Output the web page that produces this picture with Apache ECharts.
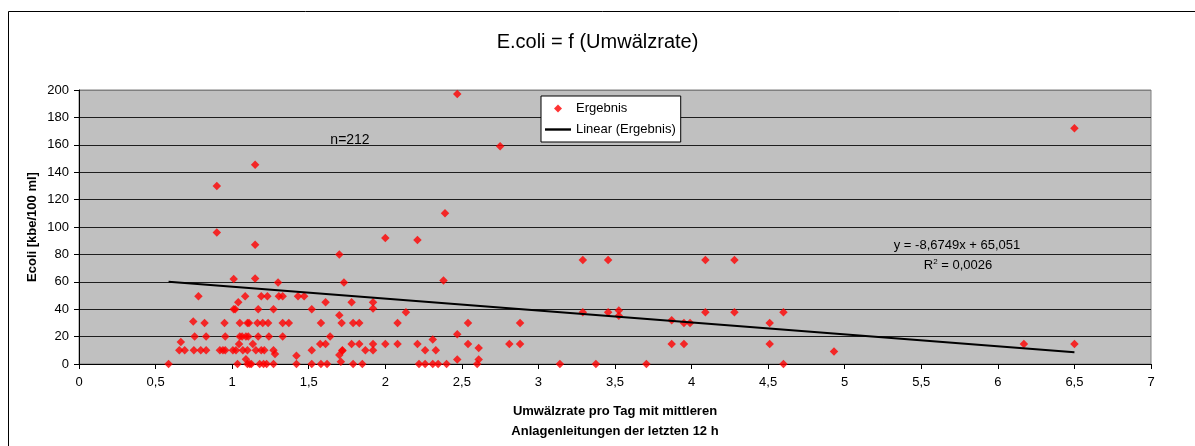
<!DOCTYPE html>
<html>
<head>
<meta charset="utf-8">
<script src="https://cdn.jsdelivr.net/npm/echarts@6/dist/echarts.min.js"></script>
<style>
html,body{margin:0;padding:0;background:#fff;}
#chart{width:1195px;height:446px;}
</style>
</head>
<body>
<div id="chart"></div>
<script>
// Data
var ergebnis = [
  [0.90,130],[1.15,145.5],[0.90,96],[1.15,87],[1.70,80],[2.00,92],[2.21,90.5],[2.47,197],[2.75,159],[2.39,110],[6.50,172],
  [1.01,62],[1.15,62.5],[1.30,59.5],[1.73,59.5],[2.38,61],
  [0.78,49.5],[1.04,45],[1.085,49.5],[1.19,49.5],[1.23,49.5],[1.305,49.5],[1.33,49.5],[1.43,49.5],[1.47,49.5],[1.61,45],[1.78,45],[1.92,45],[1.92,40.5],
  [1.01,40],[1.02,40],[1.17,40],[1.27,40],[1.52,40],[1.70,35.5],
  [2.135,37.7],[3.29,37.7],[3.455,37.7],[3.525,39],[3.525,35.3],[4.09,37.7],[4.28,37.7],[4.60,37.7],
  [3.29,76],[3.455,76],[4.09,76],[4.28,76],
  [0.746,31],[0.82,30],[0.95,30],[1.05,30],[1.10,30],[1.11,30],[1.165,30],[1.20,30],[1.235,30],[1.33,30],[1.37,30],[1.58,30],[1.715,30],[1.79,30],[1.83,30],[2.08,30],[2.54,30],[2.88,30],
  [3.87,32],[3.95,30],[3.99,30],[4.51,30],
  [0.755,20],[0.83,20],[0.955,20],[1.05,20],[1.065,20],[1.09,20],[1.105,20],[1.17,20],[1.24,20],[1.33,20],[1.64,20],[2.47,21.7],[2.31,17.8],
  [0.665,16],[1.045,14.6],[1.135,14.6],[1.575,14.6],[1.61,14.6],[1.78,14.6],[1.83,14.6],[1.92,14.6],[2.00,14.6],[2.08,14.6],[2.21,14.6],[2.54,14.6],[2.81,14.6],[2.88,14.6],[3.87,14.6],[3.95,14.6],[4.51,14.6],[6.17,14.6],[6.50,14.6],
  [0.655,10],[0.69,10],[0.75,10],[0.795,10],[0.83,10],[0.92,10],[0.94,10],[0.955,10],[1.005,10],[1.025,10],[1.07,10],[1.10,10],[1.155,10],[1.19,10],[1.21,10],[1.27,10],[1.52,10],[1.72,10],[1.87,10],[1.92,10],[2.26,10],[2.33,10],
  [1.28,7.3],[1.42,6],[1.09,3.4],[1.70,6.6],[1.72,9.7],[1.71,1.7],[2.61,11.7],[2.47,3.2],[2.61,3.2],[4.93,9.2],
  [0.585,0],[1.035,0],[1.10,0],[1.115,0],[1.125,0],[1.18,0],[1.205,0],[1.225,0],[1.27,0],[1.42,0],[1.52,0],[1.58,0],[1.62,0],[1.79,0],[1.85,0],[2.22,0],[2.26,0],[2.31,0],[2.345,0],[2.40,0],[2.60,0],[3.14,0],[3.375,0],[3.705,0],[4.60,0]
];
var trendline = [[0.585, 59.98], [6.50, 8.66]];
var xTickValues = [0, 0.5, 1, 1.5, 2, 2.5, 3, 3.5, 4, 4.5, 5, 5.5, 6, 6.5, 7];
var yTickValues = [0, 20, 40, 60, 80, 100, 120, 140, 160, 180, 200];
var titleText = 'E.coli = f (Umwälzrate)';
var seriesNames = ['Ergebnis', 'Linear (Ergebnis)'];
var equationText = 'y = -8,6749x + 65,051';
var r2Text = '0,0026';
var nText = 'n=212';

var FONT = '"Liberation Sans", Arial, sans-serif';
var chart = echarts.init(document.getElementById('chart'));
var splitColors = yTickValues.map(function (v, i) { return i === yTickValues.length - 1 ? '#808080' : '#1e1e1e'; });

chart.setOption({
  animation: false,
  backgroundColor: '#ffffff',
  textStyle: { fontFamily: FONT },
  title: {
    text: titleText,
    left: 'center',
    top: 27,
    textStyle: { fontFamily: FONT, fontSize: 20, fontWeight: 'normal', color: '#000' }
  },
  grid: {
    left: 79, right: 44, top: 90, bottom: 82,
    show: true, backgroundColor: '#c0c0c0', borderColor: '#808080', borderWidth: 1
  },
  legend: {
    left: 541, top: 96,
    orient: 'vertical',
    backgroundColor: '#ffffff',
    borderColor: '#000', borderWidth: 1,
    padding: [6, 5, 6, 4],
    itemGap: 8,
    itemWidth: 26, itemHeight: 8,
    textStyle: { fontFamily: FONT, fontSize: 13, color: '#000' },
    data: [
      { name: seriesNames[0], icon: 'path://M5,0 L10,5 L5,10 L0,5 Z' },
      { name: seriesNames[1], icon: 'path://M0,0 L26,0 L26,2.4 L0,2.4 Z' }
    ]
  },
  xAxis: {
    type: 'value', min: 0, max: 7, interval: 0.5,
    name: 'Umwälzrate pro Tag mit mittleren\nAnlagenleitungen der letzten 12 h',
    nameLocation: 'middle', nameGap: 37,
    nameTextStyle: { fontFamily: FONT, fontSize: 13, fontWeight: 'bold', color: '#000', lineHeight: 20 },
    axisLine: { show: true, onZero: false, lineStyle: { color: '#000', width: 1 } },
    axisTick: { show: true, length: 5, lineStyle: { color: '#000' } },
    axisLabel: { fontFamily: FONT, fontSize: 13, color: '#000', margin: 12,
      formatter: function (v) { return String(v).replace('.', ','); } },
    splitLine: { show: false }
  },
  yAxis: {
    type: 'value', min: 0, max: 200, interval: 20,
    name: 'Ecoli [kbe/100 ml]',
    nameLocation: 'middle', nameGap: 40, nameRotate: 90, nameMoveOverlap: false,
    nameTextStyle: { fontFamily: FONT, fontSize: 13, fontWeight: 'bold', color: '#000' },
    axisLine: { show: true, onZero: false, lineStyle: { color: '#000', width: 1 } },
    axisTick: { show: true, length: 5, lineStyle: { color: '#000' } },
    axisLabel: { fontFamily: FONT, fontSize: 13, color: '#000', margin: 10 },
    splitLine: { show: true, lineStyle: { color: splitColors, width: 1 } }
  },
  series: [
    {
      name: seriesNames[0], type: 'scatter', data: ergebnis,
      symbol: 'diamond', symbolSize: 8.5,
      itemStyle: { color: '#ff0000' }, z: 3
    },
    {
      name: seriesNames[1], type: 'line', data: trendline,
      showSymbol: false, symbol: 'none',
      lineStyle: { color: '#000', width: 2 },
      itemStyle: { color: '#000' }, z: 4
    }
  ],
  graphic: [
    { type: 'rect', shape: { x: 8.5, y: 11.5, width: 1300, height: 600 },
      style: { fill: null, stroke: '#000', lineWidth: 1 }, z: 100, silent: true },
    { type: 'text', x: 350, y: 140, z: 50,
      style: { text: nText, fontFamily: FONT, fontSize: 14, fill: '#000', textAlign: 'center', textVerticalAlign: 'middle' } },
    { type: 'text', x: 957, y: 245, z: 50,
      style: { text: equationText, fontFamily: FONT, fontSize: 13, fill: '#000', textAlign: 'center', textVerticalAlign: 'middle' } },
    { type: 'text', x: 958, y: 265, z: 50,
      style: {
        text: '{a|R}{s|2}{a| = ' + r2Text + '}',
        textAlign: 'center', textVerticalAlign: 'middle',
        rich: {
          a: { fontFamily: FONT, fontSize: 13, color: '#000' },
          s: { fontFamily: FONT, fontSize: 8, color: '#000', verticalAlign: 'top', padding: [0, 0, 6, 0] }
        }
      } }
  ]
});
</script>
</body>
</html>
